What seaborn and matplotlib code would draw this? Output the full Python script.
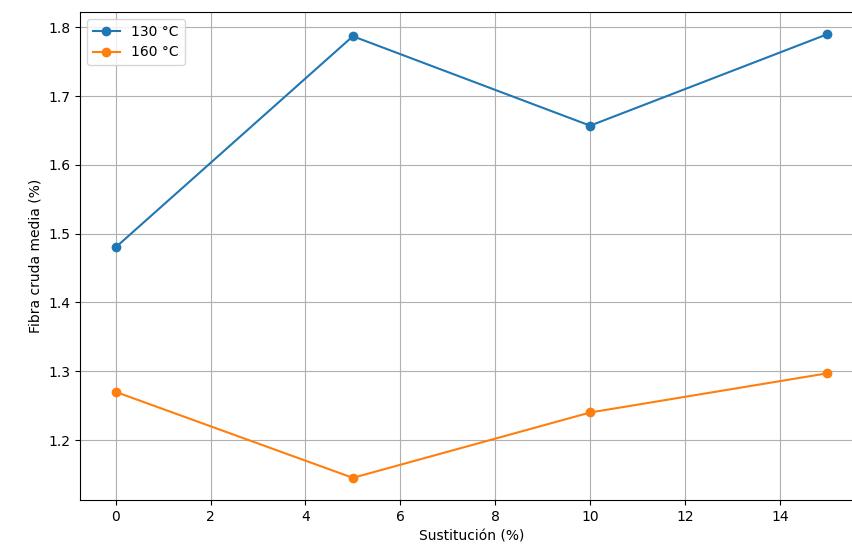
import matplotlib
matplotlib.use("Agg")
import matplotlib.pyplot as plt
import seaborn as sns
import pandas as pd

# Datos
sustitucion = [0, 5, 10, 15]
fibra_130 = [1.480, 1.787, 1.657, 1.790]
fibra_160 = [1.270, 1.145, 1.240, 1.297]
etiquetas = ["130 °C", "160 °C"]
colores = ["#1f77b4", "#ff7f0e"]

df = pd.DataFrame({
    "Sustitución (%)": sustitucion * 2,
    "Fibra": fibra_130 + fibra_160,
    "Temperatura": [etiquetas[0]] * 4 + [etiquetas[1]] * 4,
})

fig = plt.figure(figsize=(8.53, 5.53), dpi=100)
# el eje se sale un poco por la derecha, como en la imagen original recortada
ax = fig.add_axes([0.0938, 0.0958, 0.9179, 0.8825])

for etiqueta, color in zip(etiquetas, colores):
    sub = df[df["Temperatura"] == etiqueta]
    sns.lineplot(data=sub, x="Sustitución (%)", y="Fibra", marker="o",
                 color=color, label=etiqueta, ax=ax, markersize=6,
                 markeredgecolor=color, markeredgewidth=1, linewidth=1.5)

ax.set_xlabel("Sustitución (%)")
ax.set_ylabel("Fibra cruda media (%)")
ax.grid(True)
ax.spines["right"].set_visible(False)
ax.legend(loc="upper left")

fig.savefig("out.png", dpi=100)
